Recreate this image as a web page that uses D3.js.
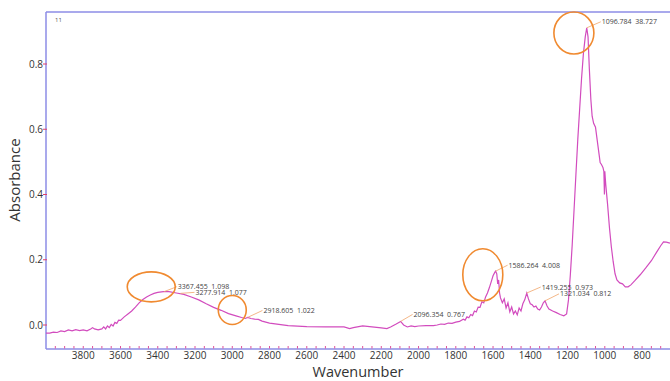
<!DOCTYPE html>
<html lang="en">
<head>
<meta charset="UTF-8">
<title>FTIR spectrum</title>
<script src="https://cdn.jsdelivr.net/npm/d3@7"></script>
<style>
    body{margin:0;background:#fff;}
    text{font-family:"Open Sans",sans-serif;}
</style>
</head>
<body>
<div class="container"></div>
<script>
    // spectrum: wavenumber (cm-1) and absorbance
    const wavenumber = [4000,3980,3960,3940,3920,3900,3880,3860,3840,3820,3800,3780,3760,3750,3740,3720,3700,3690,3680,3670,3660,3650,3640,3630,3620,3610,3600,3580,3560,3540,3520,3500,3480,3460,3440,3420,3400,3370,3340,3300,3260,3220,3180,3140,3100,3060,3020,2980,2950,2930,2918,2900,2880,2860,2840,2800,2750,2700,2600,2500,2400,2370,2350,2300,2250,2200,2170,2150,2120,2096,2080,2060,2040,2020,2000,1960,1920,1900,1880,1860,1840,1820,1800,1780,1760,1750,1740,1730,1720,1710,1700,1690,1680,1670,1660,1650,1640,1630,1620,1610,1600,1590,1586,1580,1575,1570,1565,1560,1550,1540,1530,1520,1510,1500,1490,1480,1470,1460,1450,1440,1430,1419,1410,1400,1390,1380,1370,1360,1350,1340,1330,1321,1310,1300,1280,1260,1240,1220,1205,1195,1185,1175,1165,1155,1145,1135,1125,1115,1105,1097,1090,1083,1075,1068,1060,1050,1040,1030,1025,1018,1010,1005,1002,1000,995,985,975,965,955,945,935,920,905,890,875,860,840,810,780,750,720,700,685,670,650]
    const absorbance = [-0.025,-0.025,-0.022,-0.023,-0.018,-0.020,-0.015,-0.018,-0.014,-0.017,-0.015,-0.018,-0.012,-0.008,-0.012,-0.015,-0.012,-0.006,-0.012,-0.003,-0.008,0.002,-0.003,0.008,0.005,0.015,0.014,0.025,0.034,0.043,0.055,0.068,0.078,0.086,0.092,0.097,0.100,0.102,0.102,0.098,0.094,0.086,0.077,0.065,0.054,0.045,0.035,0.028,0.023,0.020,0.023,0.020,0.018,0.017,0.012,0.006,0.002,-0.002,-0.005,-0.006,-0.006,-0.011,-0.008,-0.003,-0.006,-0.009,-0.011,-0.006,0.003,0.011,0.000,-0.006,-0.003,-0.005,-0.003,-0.002,-0.002,0.000,0.003,0.002,0.006,0.005,0.009,0.011,0.018,0.015,0.025,0.022,0.032,0.029,0.043,0.040,0.055,0.054,0.071,0.068,0.086,0.098,0.114,0.132,0.151,0.162,0.165,0.157,0.126,0.138,0.098,0.083,0.068,0.080,0.052,0.068,0.040,0.055,0.034,0.043,0.031,0.052,0.043,0.065,0.077,0.098,0.080,0.065,0.062,0.055,0.058,0.049,0.046,0.055,0.068,0.074,0.058,0.049,0.043,0.038,0.032,0.028,0.034,0.077,0.154,0.246,0.354,0.462,0.569,0.662,0.754,0.831,0.883,0.911,0.883,0.785,0.692,0.640,0.618,0.606,0.563,0.520,0.498,0.492,0.483,0.471,0.400,0.471,0.431,0.369,0.298,0.240,0.194,0.157,0.138,0.129,0.126,0.117,0.117,0.123,0.135,0.154,0.175,0.197,0.225,0.243,0.255,0.254,0.251]

    const yTicks = [0.0, 0.2, 0.4, 0.6, 0.8]
    const xTicks = [3800,3600,3400,3200,3000,2800,2600,2400,2200,2000,1800,1600,1400,1200,1000,800]

    // peak labels: [wavenumber, absorbance of the point, label text, label x offset, label y offset]
    const peakLabels = [
        [1096.784, 0.911, "1096.784  38.727", 14, -6],
        [1586.264, 0.165, "1586.264  4.008", 12, -6],
        [1419.255, 0.098, "1419.255  0.973", 14, -6],
        [1321.034, 0.074, "1321.034  0.812", 14, -7],
        [2096.354, 0.011, "2096.354  0.767", 12, -7],
        [2918.605, 0.023, "2918.605  1.022", 15, -7],
        [3367.455, 0.102, "3367.455  1.098", 13, -5],
        [3277.914, 0.097, "3277.914  1.077", 14, -1]
    ]
    // circled regions: [centre wavenumber, centre absorbance, rx, ry]
    const circles = [
        [3435, 0.117, 24, 15],
        [3000, 0.046, 14, 14.5],
        [1655, 0.154, 20, 26],
        [1166, 0.895, 20, 21]
    ]

    const W = 670, H = 381
    const mLeft = 46, mTop = 12, mBottom = 349, mRight = 670

    const svg = d3.select(".container").append("svg")
        .attr("width", W).attr("height", H)

    const x = d3.scaleLinear().domain([4000, 650]).range([mLeft, mRight])
    const y = d3.scaleLinear().domain([0, 0.8]).range([325, 64])

    // frame
    svg.append("line").attr("x1", mLeft).attr("x2", mRight).attr("y1", mTop).attr("y2", mTop)
        .attr("stroke", "#8c8ce6").attr("stroke-width", 1.5)
    svg.append("line").attr("x1", mLeft).attr("x2", mLeft).attr("y1", mTop).attr("y2", mBottom)
        .attr("stroke", "#8c8ce6").attr("stroke-width", 1.5)
    svg.append("line").attr("x1", mLeft).attr("x2", mRight).attr("y1", mBottom).attr("y2", mBottom)
        .attr("stroke", "#8c8ce6").attr("stroke-width", 1.5)

    // minor ticks on the bottom axis
    svg.append("g").selectAll("line")
        .data(d3.range(3950, 650, -50))
        .join("line")
        .attr("x1", d => x(d)).attr("x2", d => x(d))
        .attr("y1", mBottom - 0.5).attr("y2", mBottom - 3)
        .attr("stroke", "#e0509a").attr("stroke-width", 1)

    svg.append("g").selectAll("text")
        .data(xTicks)
        .join("text")
        .attr("x", d => x(d)).attr("y", 359)
        .attr("text-anchor", "middle")
        .attr("font-size", 10).attr("fill", "#333")
        .text(d => d)

    // y ticks
    svg.append("g").selectAll("line")
        .data(yTicks)
        .join("line")
        .attr("x1", mLeft - 3).attr("x2", mLeft + 1)
        .attr("y1", d => y(d)).attr("y2", d => y(d))
        .attr("stroke", "#e0406a").attr("stroke-width", 1)
    svg.append("g").selectAll("text")
        .data(yTicks)
        .join("text")
        .attr("x", mLeft - 3).attr("y", d => y(d) + 3.5)
        .attr("text-anchor", "end")
        .attr("font-size", 10).attr("fill", "#333")
        .text(d => d.toFixed(1))

    svg.append("text").attr("x", 55).attr("y", 22)
        .attr("font-size", 6).attr("fill", "#555").text("11")

    // axis titles
    svg.append("text")
        .attr("transform", "translate(20,180)rotate(-90)")
        .attr("text-anchor", "middle")
        .attr("font-size", 15).attr("fill", "#333")
        .text("Absorbance")
    svg.append("text")
        .attr("x", 358).attr("y", 377)
        .attr("text-anchor", "middle")
        .attr("font-size", 14.5).attr("fill", "#333")
        .text("Wavenumber")

    // the spectrum
    const line = d3.line().x(d => x(d[0])).y(d => y(d[1]))
    svg.append("path")
        .datum(wavenumber.map((w, i) => [w, absorbance[i]]))
        .attr("d", line)
        .attr("fill", "none")
        .attr("stroke", "#d24cbe")
        .attr("stroke-width", 1.2)

    // leader lines and peak labels
    const lab = svg.append("g").selectAll("g")
        .data(peakLabels)
        .join("g")
    lab.append("line")
        .attr("x1", d => x(d[0])).attr("y1", d => y(d[1]))
        .attr("x2", d => x(d[0]) + d[3]).attr("y2", d => y(d[1]) + d[4])
        .attr("stroke", "#f0a46a").attr("stroke-width", 0.8)
    lab.append("text")
        .attr("x", d => x(d[0]) + d[3] + 1).attr("y", d => y(d[1]) + d[4] + 2.5)
        .attr("font-size", 7).attr("fill", "#444")
        .style("white-space", "pre")
        .text(d => d[2])

    // orange circles
    svg.append("g").selectAll("ellipse")
        .data(circles)
        .join("ellipse")
        .attr("cx", d => x(d[0])).attr("cy", d => y(d[1]))
        .attr("rx", d => d[2]).attr("ry", d => d[3])
        .attr("fill", "none")
        .attr("stroke", "#f08a30").attr("stroke-width", 1.6)
</script>
</body>
</html>
